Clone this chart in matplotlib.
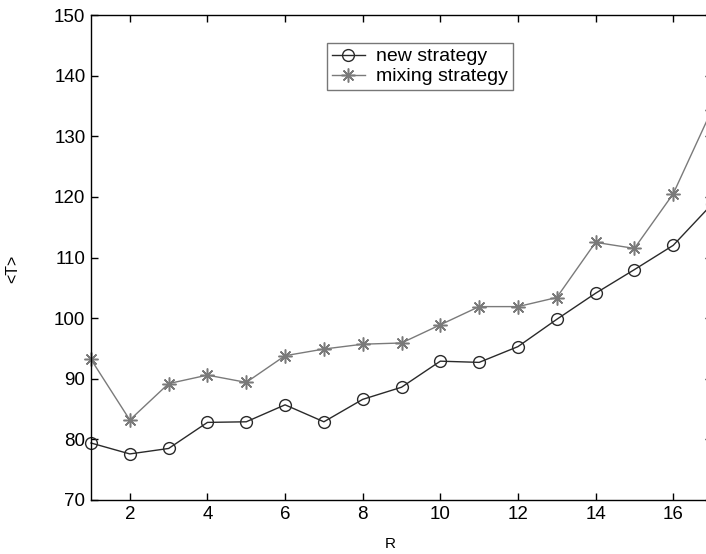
import matplotlib.pyplot as plt
import numpy as np

plt.rcParams['font.family'] = ['Liberation Sans', 'DejaVu Sans']

R = [1, 2, 3, 4, 5, 6, 7, 8, 9, 10, 11, 12, 13, 14, 15, 16, 17]
new_T = [79.4, 77.6, 78.5, 82.8, 82.9, 85.7, 82.9, 86.6, 88.6, 92.9, 92.7,
         95.3, 99.8, 104.1, 108.0, 112.0, 118.8]
mix_T = [93.2, 83.2, 89.2, 90.6, 89.4, 93.8, 94.9, 95.7, 95.9, 98.9, 101.9,
         101.9, 103.4, 112.5, 111.5, 120.5, 134.4]

fig = plt.figure(figsize=(7.06, 5.54), dpi=100)
# axes runs a little past the right edge, as in the reference
ax = fig.add_axes([91/706, 54/554, 621/706, 485/554])

ax.plot(R, new_T, color='#2a2a2a', lw=1.0, marker='o', ms=8.5,
        mfc='none', mec='#2a2a2a', mew=1.0, label='new strategy', clip_on=False)
ax.plot(R, mix_T, color='#7a7a7a', lw=1.0, marker=(8, 2, 0), ms=10,
        mec='#7a7a7a', mew=1.1, label='mixing strategy', clip_on=False)

ax.set_xlim(1, 17)
ax.set_ylim(70, 150)
ax.set_xticks(np.arange(2, 17, 2))
ax.set_yticks(np.arange(70, 151, 10))
ax.tick_params(direction='in', top=True, right=True, labelsize=13.5,
               length=5, width=1, pad=4)
for s in ax.spines.values():
    s.set_linewidth(1.0)

ax.set_xlabel('R', fontsize=11)
ax.set_ylabel('<T>', fontsize=11.5)
# label centres
ax.xaxis.set_label_coords((390 - 91) / 621, (500 - 544) / 485)
ax.yaxis.set_label_coords((13 - 91) / 621, (500 - 269) / 485)
ax.xaxis.label.set_va('center')
ax.yaxis.label.set_va('center')

leg = ax.legend(loc='upper left', bbox_to_anchor=((327 - 91) / 621, (500 - 43) / 485),
                fontsize=14, fancybox=False, edgecolor='#777777', framealpha=1,
                handlelength=1.7, handletextpad=0.57, borderpad=0.25,
                labelspacing=0.12, borderaxespad=0)
leg.get_frame().set_linewidth(1.0)

plt.savefig('out.png', dpi=100)
